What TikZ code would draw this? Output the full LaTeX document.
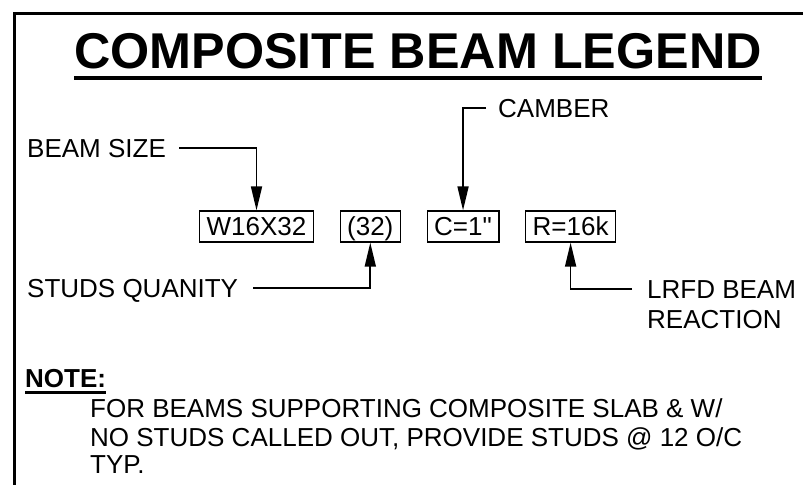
\documentclass[tikz,border=0pt]{standalone}
\usepackage{fontspec}
\setmainfont{Liberation Sans}[Ligatures=TeXOff]
\usetikzlibrary{positioning,calc,arrows.meta}
\newcommand{\legfont}{\fontsize{26}{28}\selectfont}

\begin{document}
\begin{tikzpicture}[x=1pt,y=-1pt,
  tag/.style={draw,line width=1.3pt,inner xsep=7pt,inner ysep=0pt,minimum height=31pt,
    text height=18.6pt,text depth=0pt,font=\legfont},
  callout/.style={inner sep=0pt,anchor=base west,text height=18.6pt,text depth=0pt,font=\legfont},
  lead/.style={line width=1.7pt,-{Triangle[length=24pt,width=11pt]}}]
  \useasboundingbox (0,0) rectangle (803,485);
  \draw[line width=3pt] (803,13.5) -- (14.5,13.5) -- (14.5,485);
  \node[inner sep=0pt,anchor=base west,font=\bfseries\fontsize{50.3}{54}\selectfont] (title) at (74,68) {COMPOSITE BEAM LEGEND};
  \draw[line width=4pt] ($(title.base west)+(0,9.5)$) -- ($(title.base east)+(0,9.5)$);
  \node[tag,anchor=west] (w) at (199,226.5) {W16X32};
  \node[tag,right=25.5pt of w] (studs) {(32)};
  \node[tag,right=25.5pt of studs] (c) {C=1"};
  \node[tag,right=25.5pt of c] (r) {R=16k};
  \node[callout] (bsz) at (27,157) {BEAM SIZE};
  \node[callout] (sq) at (27,297.5) {STUDS QUANITY};
  \node[callout] (cam) at (498,117) {CAMBER};
  \node[callout] (lrfd) at (647,298) {LRFD BEAM};
  \node[callout] (react) at (647,328) {REACTION};
  \draw[lead,shorten <=13pt] (bsz.east) -| (w.north);
  \draw[lead,shorten <=15pt] (sq.east) -| (studs.south);
  \draw[lead,shorten <=12pt] (cam.west) -| (c.north);
  \draw[lead,shorten <=15pt] (lrfd.west) -| (r.south);
  \node[callout,font=\bfseries\legfont] (note) at (25,387) {NOTE:};
  \draw[line width=2.5pt] ($(note.base west)+(0,5.5)$) -- ($(note.base east)+(0,5.5)$);
  \foreach \y/\txt [count=\i] in {417/{FOR BEAMS SUPPORTING COMPOSITE SLAB \& W/},
      446/{NO STUDS CALLED OUT, PROVIDE STUDS @ 12 O/C},473/{TYP.}}
    \node[callout] (nl\i) at (90,\y) {\txt};
\end{tikzpicture}
\end{document}
